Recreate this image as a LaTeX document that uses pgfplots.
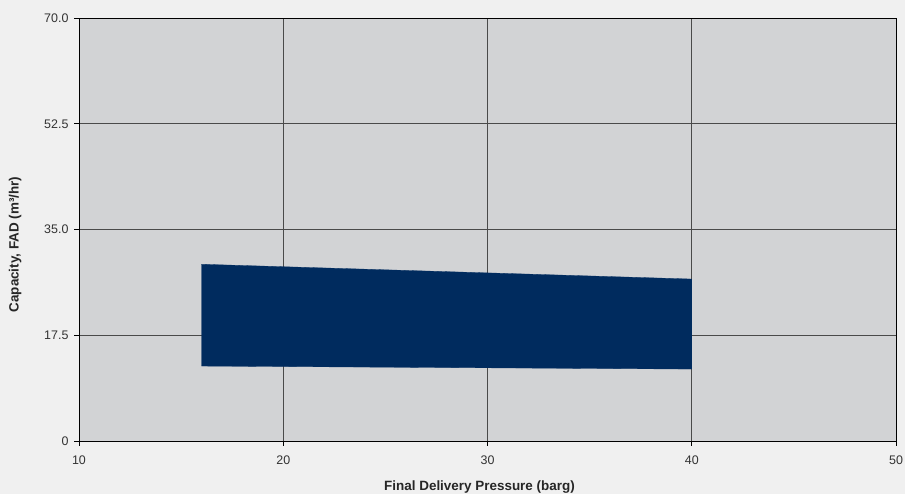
\documentclass[border=0pt]{standalone}
\usepackage{pgfplots}
\pgfplotsset{compat=1.18}
\usepackage{fontspec}
\setmainfont{Liberation Sans}
\definecolor{outerbg}{HTML}{F0F0F0}
\definecolor{plotbg}{HTML}{D2D3D5}
\definecolor{navy}{HTML}{002B5E}
\definecolor{gridc}{HTML}{4A4A4A}
\begin{document}
\begin{tikzpicture}[x=1bp,y=1bp]
\fill[outerbg] (0,0) rectangle (905,494);
\useasboundingbox (0,0) rectangle (905,494);
\begin{axis}[
  at={(79bp,53bp)}, anchor=south west,
  scale only axis, width=817bp, height=423bp,
  xmin=10, xmax=50, ymin=0, ymax=70,
  xtick={10,20,30,40,50},
  ytick={0,17.5,35,52.5,70},
  yticklabels={0,17.5,35.0,52.5,70.0},
  axis background/.style={fill=plotbg},
  grid=major,
  major grid style={gridc, line width=0.7pt},
  axis line style={black, line width=0.9pt},
  tick align=outside, tick pos=left,
  major tick length=5bp,
  tick style={black, line width=0.6pt},
  /pgf/number format/assume math mode=true,
  ticklabel style={font=\fontsize{12.5}{14}\selectfont, text=black!80},
  xticklabel style={yshift=-6bp},
  yticklabel style={xshift=-2bp},
  xlabel={Final Delivery Pressure (barg)},
  ylabel={Capacity, FAD (m³/hr)},
  label style={font=\bfseries\fontsize{13.5}{15}\selectfont, text=black!85},
  xlabel style={at={(0.5,0)}, anchor=north, yshift=-36bp, xshift=-8bp},
  ylabel style={at={(0,0.5)}, yshift=54bp, xshift=-15bp},
]
\addplot[fill=navy, draw=navy, line width=0.3pt] coordinates {
  (16,12.4) (40,11.9) (40,26.8) (16,29.25)
} -- cycle;
\end{axis}
\end{tikzpicture}
\end{document}
